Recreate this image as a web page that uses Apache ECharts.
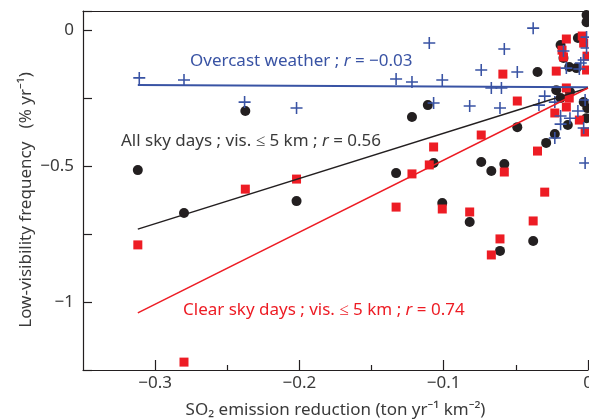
<!DOCTYPE html>
<html>
<head>
<meta charset="utf-8">
<script src="https://cdn.jsdelivr.net/npm/echarts@6/dist/echarts.min.js"></script>
<style>
  html, body { margin: 0; padding: 0; background: #fff; }
  #chart { width: 589px; height: 419px; }
</style>
</head>
<body>
<div id="chart"></div>
<script>
// values: [SO2 reduction, low-visibility trend]
var overcastPoints = [
  [-0.311, -0.176], [-0.280, -0.184], [-0.238, -0.265], [-0.202, -0.287],
  [-0.133, -0.180], [-0.122, -0.191], [-0.110, -0.048], [-0.101, -0.184],
  [-0.107, -0.268], [-0.082, -0.279], [-0.074, -0.147], [-0.067, -0.213],
  [-0.060, -0.213], [-0.058, -0.070], [-0.049, -0.154], [-0.038, 0.007],
  [-0.061, -0.287], [-0.034, -0.276], [-0.030, -0.243], [-0.023, -0.265],
  [-0.019, -0.316], [-0.0125, -0.324], [-0.019, -0.346], [-0.007, -0.298],
  [-0.002, -0.257], [-0.003, -0.360], [-0.023, -0.397], [-0.002, -0.489],
  [-0.017, -0.077], [-0.015, -0.140], [-0.005, -0.121], [-0.006, -0.143],
  [-0.001, -0.026], [-0.001, -0.066], [-0.003, -0.110]
];
var allSkyPoints = [
  [-0.312, -0.515], [-0.280, -0.673], [-0.2375, -0.298], [-0.202, -0.629],
  [-0.133, -0.526], [-0.122, -0.320], [-0.111, -0.276], [-0.107, -0.489],
  [-0.101, -0.636], [-0.082, -0.706], [-0.074, -0.485], [-0.067, -0.518],
  [-0.058, -0.493], [-0.061, -0.812], [-0.038, -0.776], [-0.049, -0.357],
  [-0.035, -0.154], [-0.029, -0.415], [-0.023, -0.382], [-0.014, -0.349],
  [-0.022, -0.221], [-0.019, -0.250], [-0.0125, -0.228], [-0.0005, -0.287],
  [-0.001, -0.324], [-0.003, -0.265], [-0.019, -0.055], [-0.007, -0.029],
  [-0.001, 0.029], [-0.001, 0.055], [-0.017, -0.103], [-0.013, -0.136],
  [-0.008, -0.140]
];
var clearSkyPoints = [
  [-0.312, -0.790], [-0.280, -1.221], [-0.2375, -0.585], [-0.202, -0.548],
  [-0.133, -0.651], [-0.122, -0.529], [-0.110, -0.496], [-0.107, -0.430],
  [-0.101, -0.658], [-0.082, -0.669], [-0.074, -0.386], [-0.067, -0.827],
  [-0.061, -0.768], [-0.058, -0.522], [-0.059, -0.162], [-0.049, -0.261],
  [-0.038, -0.702], [-0.035, -0.445], [-0.030, -0.596], [-0.022, -0.151],
  [-0.023, -0.305], [-0.015, -0.283], [-0.006, -0.331], [-0.002, -0.375],
  [-0.015, -0.213], [-0.013, -0.250], [-0.015, -0.033], [-0.018, -0.074],
  [-0.017, -0.099], [-0.004, -0.022], [-0.003, -0.048], [-0.0007, -0.096],
  [-0.001, -0.147]
];
// regression lines (end points)
var overcastFit = [[-0.312, -0.202], [0, -0.210]];
var allSkyFit = [[-0.312, -0.732], [0, -0.213]];
var clearSkyFit = [[-0.312, -1.040], [0, -0.213]];

var xMajorTicks = [-0.3, -0.2, -0.1, 0];
var xMinorTicks = [-0.25, -0.15, -0.05];
var yLabelTicks = [0, -0.5, -1];

var BLUE = '#3953a4', RED = '#ed1c24', BLACK = '#231f20', TXT = '#3a3a3a';
var FONT = 'Noto Sans';
var FS = 17;
var plusPath = 'path://M0,4.35H4.35V0H5.65V4.35H10V5.65H5.65V10H4.35V5.65H0Z';

var myChart = echarts.init(document.getElementById('chart'));

function fmtNum(v) {
  return v === 0 ? '0' : String(v).replace('-', '\u2212');
}

// rich text with italic r
function richStyle(color) {
  return {
    a: { fill: color, fontSize: FS, fontFamily: FONT },
    i: { fill: color, fontSize: FS, fontFamily: FONT, fontStyle: 'italic' }
  };
}

myChart.setOption({
  animation: false,
  grid: { left: 83, right: 1, top: 11, bottom: 49, outerBoundsMode: 'none', containLabel: false },
  xAxis: [
    {
      type: 'value',
      min: -0.35,
      max: 0,
      interval: 0.05,
      position: 'bottom',
      splitLine: { show: false },
      axisLine: { show: true, onZero: false, lineStyle: { color: BLACK, width: 1.2 } },
      axisTick: { show: true, inside: true, length: 10, customValues: xMajorTicks, lineStyle: { color: BLACK, width: 1.2 } },
      axisLabel: { customValues: xMajorTicks, formatter: fmtNum, color: TXT, fontSize: FS, fontFamily: FONT, margin: 5 },
      name: 'SO\u2082 emission reduction (ton yr\u207B\u00B9 km\u207B\u00B2)',
      nameLocation: 'middle',
      nameGap: 32,
      nameTextStyle: { color: TXT, fontSize: FS, fontFamily: FONT }
    },
    {
      type: 'value',
      min: -0.35,
      max: 0,
      position: 'bottom',
      splitLine: { show: false },
      axisLine: { show: false, onZero: false },
      axisTick: { show: true, inside: true, length: 5, customValues: xMinorTicks, lineStyle: { color: BLACK, width: 1.2 } },
      axisLabel: { show: false }
    },
    {
      type: 'value',
      min: -0.35,
      max: 0,
      position: 'top',
      splitLine: { show: false },
      axisLine: { show: true, onZero: false, lineStyle: { color: BLACK, width: 1.2 } },
      axisTick: { show: false },
      axisLabel: { show: false }
    }
  ],
  yAxis: {
    type: 'value',
    min: -1.25,
    max: 0.07,
    interval: 0.25,
    position: 'left',
    splitLine: { show: false },
    axisLine: { show: true, onZero: false, lineStyle: { color: BLACK, width: 1.2 } },
    axisTick: { show: true, inside: true, length: 9, lineStyle: { color: BLACK, width: 1.2 } },
    axisLabel: {
      customValues: yLabelTicks,
      formatter: fmtNum,
      color: TXT, fontSize: FS, fontFamily: FONT, margin: 9
    }
  },
  graphic: [
    {
      type: 'text', x: 26, y: 200, rotation: Math.PI / 2,
      style: {
        text: 'Low-visibility frequency   (% yr\u207B\u00B9)',
        fill: TXT, font: FS + 'px "Noto Sans"', align: 'center', verticalAlign: 'middle'
      }
    },
    {
      type: 'text', x: 190, y: 61, z: 10,
      style: {
        text: '{a|Overcast weather ; }{i|r}{a| = \u22120.03}',
        verticalAlign: 'middle',
        rich: richStyle(BLUE)
      }
    },
    {
      type: 'text', x: 121, y: 141, z: 10,
      style: {
        text: '{a|All sky days ; vis. \u2264 5 km ; }{i|r}{a| = 0.56}',
        verticalAlign: 'middle',
        rich: richStyle(TXT)
      }
    },
    {
      type: 'text', x: 183, y: 310, z: 10,
      style: {
        text: '{a|Clear sky days ; vis. \u2264 5 km ; }{i|r}{a| = 0.74}',
        verticalAlign: 'middle',
        rich: richStyle(RED)
      }
    }
  ],
  series: [
    {
      name: 'All sky', type: 'scatter', data: allSkyPoints,
      symbol: 'circle', symbolSize: 10, itemStyle: { color: BLACK, opacity: 1 }
    },
    {
      name: 'Clear sky', type: 'scatter', data: clearSkyPoints,
      symbol: 'rect', symbolSize: 9, itemStyle: { color: RED, opacity: 1 }
    },
    {
      name: 'Overcast', type: 'scatter', data: overcastPoints,
      symbol: plusPath, symbolSize: 12, itemStyle: { color: BLUE, opacity: 1 }
    },
    {
      name: 'Overcast fit', type: 'line', data: overcastFit, showSymbol: false,
      lineStyle: { color: BLUE, width: 2 }
    },
    {
      name: 'All sky fit', type: 'line', data: allSkyFit, showSymbol: false,
      lineStyle: { color: BLACK, width: 1.5 }
    },
    {
      name: 'Clear sky fit', type: 'line', data: clearSkyFit, showSymbol: false,
      lineStyle: { color: RED, width: 1.5 }
    }
  ]
});

window.addEventListener('resize', function () {
  myChart.resize();
});
</script>
</body>
</html>
